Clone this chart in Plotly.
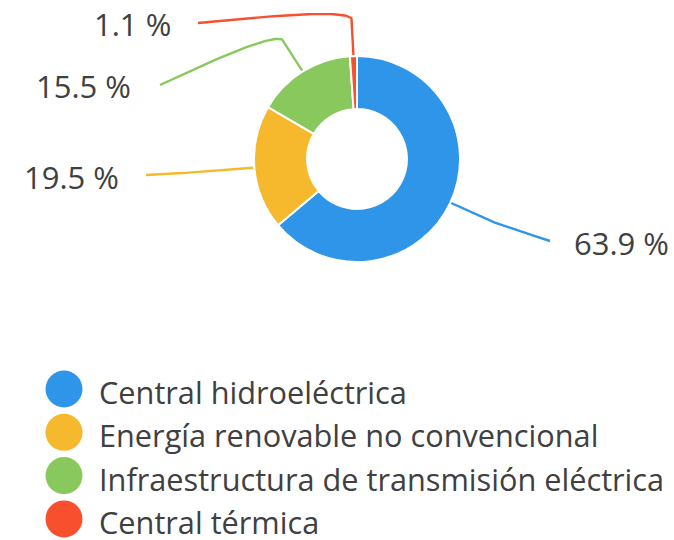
import numpy as np
import plotly.graph_objects as go

# ---- data ----
categories = ["Central hidroeléctrica",
              "Energía renovable no convencional",
              "Infraestructura de transmisión eléctrica",
              "Central térmica"]
values = [63.9, 19.5, 15.5, 1.1]
label_texts = ["63.9 %", "19.5 %", "15.5 %", "1.1 %"]
colors = ["#2e95e8", "#f6b92d", "#89c85c", "#f8502e"]

# ---- layout constants (pixels) ----
W, H = 674, 540
CX, CY, R = 357, 159, 103
HOLE = 0.485
KNEE = 48
CORNER = 12
FONT = "Open Sans, sans-serif"
TXT = "#404040"
label_layout = [
    dict(end=(550, 241), tx=572, ty=243, anchor="left"),
    dict(end=(146, 175), tx=121, ty=177, anchor="right"),
    dict(end=(160, 85), tx=133, ty=86, anchor="right"),
    dict(end=(198, 23), tx=173, ty=24, anchor="right"),
]
LEG_X, LEG_Y0, LEG_DY, LEG_TX = 64, 389, 43.3, 97

fig = go.Figure()

fig.add_trace(go.Pie(
    labels=categories, values=values, sort=False, direction="clockwise",
    rotation=0, hole=HOLE, textinfo="none", showlegend=False,
    marker=dict(colors=colors, line=dict(color="white", width=2)),
    domain=dict(x=[(CX - R) / W, (CX + R) / W],
                y=[(H - CY - R) / H, (H - CY + R) / H]),
    hoverinfo="label+percent",
))

vals = np.array(values, dtype=float)
cum = np.cumsum(vals)
mids = (cum - vals / 2) / vals.sum() * 2 * np.pi

annotations = []
t = np.linspace(0, 1, 40)[:, None]
for i, a in enumerate(mids):
    p0 = np.array([CX + (R + 1) * np.sin(a), CY - (R + 1) * np.cos(a)])
    p1 = np.array([CX + (R + KNEE) * np.sin(a), CY - (R + KNEE) * np.cos(a)])
    p2 = np.array(label_layout[i]["end"], dtype=float)
    d0 = (p0 - p1) / np.linalg.norm(p0 - p1)
    A = p1 + d0 * CORNER
    C1 = p1
    C2 = p1 + (p2 - p1) * 0.55
    bez = ((1 - t) ** 3 * A + 3 * (1 - t) ** 2 * t * C1
           + 3 * (1 - t) * t ** 2 * C2 + t ** 3 * p2)
    pts = np.vstack([p0, bez])
    fig.add_trace(go.Scatter(x=pts[:, 0], y=pts[:, 1], mode="lines",
                             line=dict(color=colors[i], width=2.4),
                             hoverinfo="skip", showlegend=False))
    L = label_layout[i]
    annotations.append(dict(x=L["tx"], y=L["ty"], xref="x", yref="y",
                            text=label_texts[i], showarrow=False,
                            xanchor=L["anchor"], yanchor="middle",
                            font=dict(family=FONT, size=31, color=TXT)))

# custom legend
ly = [LEG_Y0 + k * LEG_DY for k in range(len(categories))]
fig.add_trace(go.Scatter(x=[LEG_X] * len(categories), y=ly, mode="markers",
                         marker=dict(size=37, color=colors, line=dict(width=0)),
                         hoverinfo="skip", showlegend=False))
for k, c in enumerate(categories):
    annotations.append(dict(x=LEG_TX, y=ly[k] + 3, xref="x", yref="y", text=c,
                            showarrow=False, xanchor="left", yanchor="middle",
                            font=dict(family=FONT, size=30.7, color=TXT)))

fig.update_layout(
    width=W, height=H, margin=dict(l=0, r=0, t=0, b=0),
    paper_bgcolor="white", plot_bgcolor="rgba(0,0,0,0)",
    xaxis=dict(range=[0, W], visible=False, fixedrange=True),
    yaxis=dict(range=[H, 0], visible=False, fixedrange=True),
    annotations=annotations, showlegend=False,
)

fig.write_html("out.html", config={"displayModeBar": False},
               post_script="document.body.style.margin='0';")
